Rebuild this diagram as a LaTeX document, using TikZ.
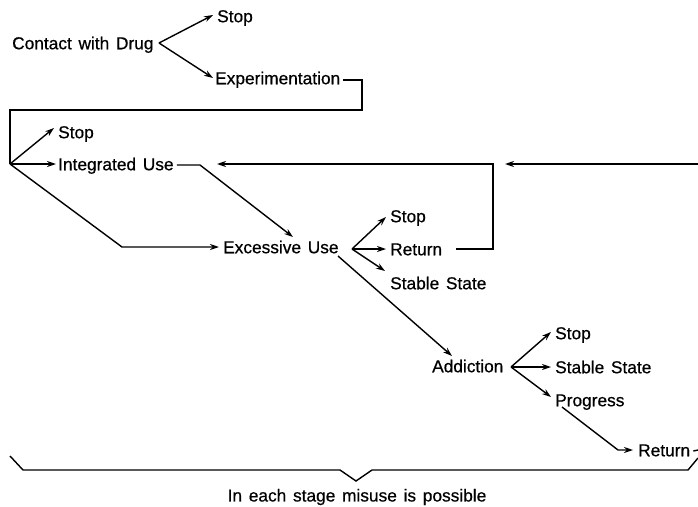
\documentclass[tikz,border=0pt]{standalone}
\usepackage{fontspec}
\setmainfont{Liberation Sans}[WordSpace=1.4,FakeBold=0.6]
\usetikzlibrary{arrows.meta}
\begin{document}
\begin{tikzpicture}[x=1pt,y=-1pt,
  lbl/.style={anchor=west,inner sep=0pt,text height=12.5pt,text depth=0pt,
    font=\fontsize{17.3}{20}\selectfont},
  conn/.style={line width=1.4pt,line join=miter},
  arr/.style={conn,-{Stealth[length=9pt,width=6pt]}}]
\useasboundingbox (0,0) rectangle (698,506);

% stage labels
\node[lbl] (contact) at (12,43)  {Contact with Drug};
\node[lbl] (stopA)   at (217,16) {Stop};
\node[lbl] (exper)   at (215,78) {Experimentation};
\node[lbl] (stopB)   at (58,132) {Stop};
\node[lbl] (integ)   at (58,164) {Integrated Use};
\node[lbl] (exces)   at (223,247) {Excessive Use};
\node[lbl] (stopC)   at (390,216) {Stop};
\node[lbl] (retC)    at (390,249) {Return};
\node[lbl] (stabC)   at (390,283) {Stable State};
\node[lbl] (addict)  at (432,366) {Addiction};
\node[lbl] (stopD)   at (555,333) {Stop};
\node[lbl] (stabD)   at (555,367) {Stable State};
\node[lbl] (prog)    at (555,400) {Progress};
\node[lbl] (retD)    at (638,450) {Return};
\node[inner sep=0pt,font=\fontsize{17.3}{20}\selectfont] (caption) at (357,497)
  {In each stage misuse is possible};

% branching points
\coordinate (fanA) at (159,43);
\coordinate (hub)  at (10,164);
\coordinate (fanC) at (352,249);
\coordinate (fanD) at (511,367);
\coordinate (edgeIn)  at (698,164);
\coordinate (edgeOut) at (698,450);

% Contact with Drug
\draw[arr] (fanA) -- ([xshift=-4pt,yshift=1pt]stopA.west);
\draw[arr] (fanA) -- ([xshift=-2pt]exper.west);
\draw[conn] ([xshift=3pt,yshift=-2pt]exper.east) -- (362,80) -- (362,110) -- (10,110) -- (hub);

% Experimentation outcomes
\draw[arr] (hub) -- ([xshift=-4pt,yshift=4pt]stopB.west);
\draw[arr] (hub) -- ([xshift=-2pt]integ.west);
\draw[arr] (hub) -- (122,247) -- ([xshift=-4pt]exces.west);
\draw[arr] ([xshift=3pt,yshift=-1pt]integ.east) -- (200,165) -- (293,237);

% Excessive Use outcomes
\draw[arr] (fanC) -- ([xshift=-4pt,yshift=-1pt]stopC.west);
\draw[arr] (fanC) -- ([xshift=-4pt]retC.west);
\draw[arr] (fanC) -- ([xshift=-5pt,yshift=12pt]stabC.west);
\draw[arr] ([xshift=14pt]retC.east) -- (493,249) -- (493,164) -- (217,164);
\draw[arr] (edgeIn) -- (505,164);
\draw[arr] (338,256) -- ([xshift=20pt,yshift=10pt]addict.west);

% Addiction outcomes
\draw[arr] (fanD) -- ([xshift=-4pt,yshift=1pt]stopD.west);
\draw[arr] (fanD) -- ([xshift=-4pt]stabD.west);
\draw[arr] (fanD) -- ([xshift=-4pt,yshift=3pt]prog.west);
\draw[arr] ([xshift=7pt,yshift=-7pt]prog.west) -- (618,450) -- ([xshift=-5pt]retD.west);
\draw[conn] ([xshift=3pt,yshift=-1pt]retD.east) -- (edgeOut);

% bracket under all stages
\draw[conn] (10,456) -- (23,470) -- (340,470) -- (356,481) -- (372,470)
  -- (688,470) -- (698,458);
\end{tikzpicture}
\end{document}
